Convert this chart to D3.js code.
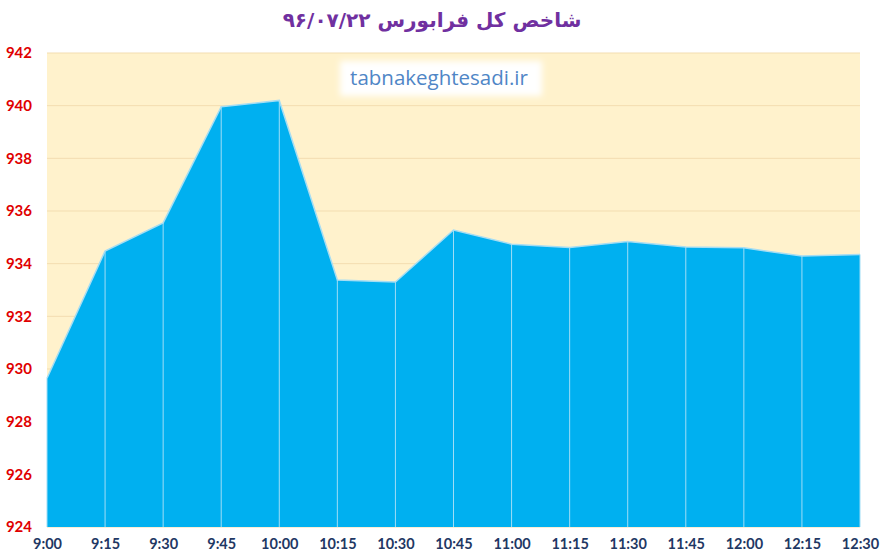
<!DOCTYPE html>
<html>
<head>
<meta charset="utf-8">
<script src="https://cdn.jsdelivr.net/npm/d3@7"></script>
<style>
  body { margin: 0; background: #fff; }
  svg { display: block; }
</style>
</head>
<body>
<svg id="chart"></svg>
<script>
// --------------------
//  data
// --------------------
const times = ["9:00", "9:15", "9:30", "9:45", "10:00", "10:15", "10:30", "10:45",
               "11:00", "11:15", "11:30", "11:45", "12:00", "12:15", "12:30"];
const values = [929.65, 934.48, 935.55, 939.96, 940.2, 933.38, 933.3, 935.28,
                934.74, 934.61, 934.84, 934.63, 934.6, 934.29, 934.35];
const yTicks = [924, 926, 928, 930, 932, 934, 936, 938, 940, 942];
const title = "شاخص کل فرابورس ۹۶/۰۷/۲۲";
const watermark = "tabnakeghtesadi.ir";

// --------------------
//  layout
// --------------------
const width = 882;
const height = 556;
const margin = {top: 53, right: 22, bottom: 29, left: 47};

const svg = d3.select("#chart")
    .attr("width", width)
    .attr("height", height);

const x = d3.scalePoint()
    .domain(times)
    .range([margin.left, width - margin.right]);

const y = d3.scaleLinear()
    .domain([924, 942])
    .range([height - margin.bottom, margin.top]);

// plot background
svg.append("rect")
    .attr("x", margin.left)
    .attr("y", margin.top)
    .attr("width", width - margin.left - margin.right)
    .attr("height", height - margin.top - margin.bottom)
    .attr("fill", "#FFF2CC");

// horizontal gridlines
svg.append("g")
    .selectAll("line")
    .data(yTicks)
    .join("line")
    .attr("x1", margin.left)
    .attr("x2", width - margin.right)
    .attr("y1", d => y(d))
    .attr("y2", d => y(d))
    .attr("stroke", "#F3DDB0")
    .attr("stroke-width", 1);

// area
const area = d3.area()
    .x((d, i) => x(times[i]))
    .y0(y(924))
    .y1(d => y(d));

svg.append("path")
    .datum(values)
    .attr("d", area)
    .attr("fill", "#00B0F0");

// vertical drop lines inside the area
svg.append("g")
    .selectAll("line")
    .data(values)
    .join("line")
    .attr("x1", (d, i) => x(times[i]))
    .attr("x2", (d, i) => x(times[i]))
    .attr("y1", d => y(d))
    .attr("y2", y(924))
    .attr("stroke", "#9FDDF6")
    .attr("stroke-width", 1);

// top outline
const line = d3.line()
    .x((d, i) => x(times[i]))
    .y(d => y(d));

svg.append("path")
    .datum(values)
    .attr("d", line)
    .attr("fill", "none")
    .attr("stroke", "#A6DDF3")
    .attr("stroke-width", 1.5);

// y axis labels
const yAxis = d3.axisLeft(y)
    .tickValues(yTicks)
    .tickSize(0)
    .tickPadding(15);

svg.append("g")
    .attr("transform", `translate(${margin.left},0)`)
    .call(yAxis)
    .call(g => g.select(".domain").remove())
    .selectAll("text")
    .attr("font-family", "Lato, 'Open Sans', sans-serif")
    .attr("font-weight", "bold")
    .attr("font-size", "15px")
    .attr("fill", "#E00000");

// x axis labels
const xAxis = d3.axisBottom(x)
    .tickSize(0)
    .tickPadding(12);

svg.append("g")
    .attr("transform", `translate(0,${height - margin.bottom})`)
    .call(xAxis)
    .call(g => g.select(".domain").remove())
    .selectAll("text")
    .attr("font-family", "Lato, 'Open Sans', sans-serif")
    .attr("font-weight", "bold")
    .attr("font-size", "14.5px")
    .attr("fill", "#1F3864");

// watermark box
const defs = svg.append("defs");
defs.append("filter")
    .attr("id", "soft")
    .attr("x", "-20%").attr("y", "-50%")
    .attr("width", "140%").attr("height", "200%")
    .append("feGaussianBlur")
    .attr("stdDeviation", 3);

svg.append("rect")
    .attr("x", 340)
    .attr("y", 61)
    .attr("width", 202)
    .attr("height", 35)
    .attr("fill", "#ffffff")
    .attr("filter", "url(#soft)");

svg.append("text")
    .attr("x", 439)
    .attr("y", 85)
    .attr("text-anchor", "middle")
    .attr("font-family", "'Open Sans', Lato, sans-serif")
    .attr("font-size", "20.5px")
    .attr("fill", "#4F86C6")
    .text(watermark);

// title
svg.append("text")
    .attr("x", 432)
    .attr("y", 27)
    .attr("text-anchor", "middle")
    .attr("direction", "rtl")
    .attr("font-family", "'DejaVu Sans', sans-serif")
    .attr("font-weight", "bold")
    .attr("font-size", "20px")
    .attr("fill", "#7030A0")
    .text(title);
</script>
</body>
</html>
